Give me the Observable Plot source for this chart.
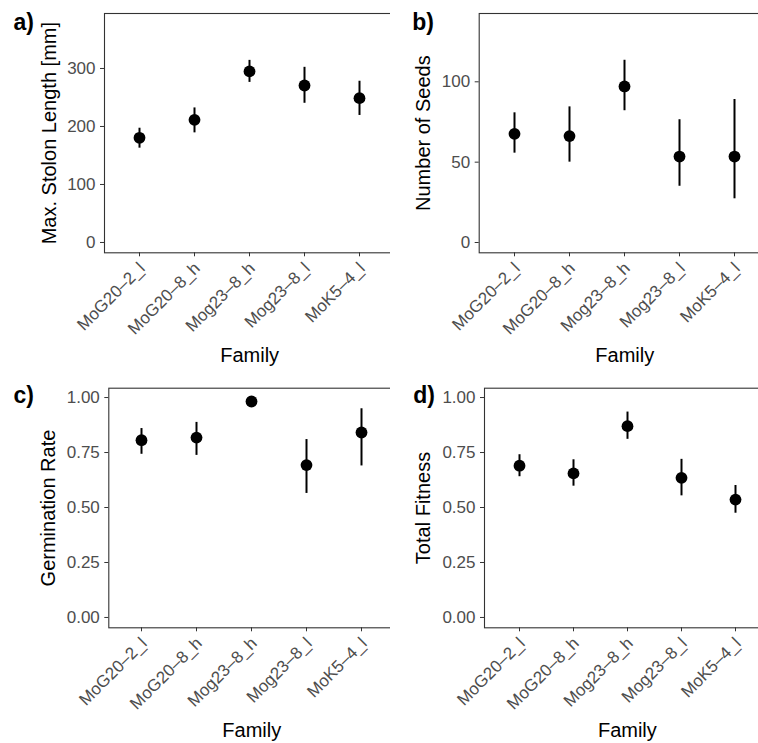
<!DOCTYPE html>
<html>
<head>
<meta charset="utf-8">
<script src="https://cdn.jsdelivr.net/npm/d3@7"></script>
<script src="https://cdn.jsdelivr.net/npm/@observablehq/plot@0.6"></script>
<style>
  html, body { margin: 0; padding: 0; background: #fff; }
  #root { position: relative; width: 758px; height: 743px; overflow: hidden; background: #fff; }
  #root > div { position: absolute; }
  #root svg { max-width: none !important; font-family: "Liberation Sans", Arial, Helvetica, sans-serif; }
</style>
</head>
<body>
<div id="root"></div>
<script>
const families = ["MoG20–2_l", "MoG20–8_h", "Mog23–8_h", "Mog23–8_l", "MoK5–4_l"];

const stolonMean = [180.5, 211.5, 295, 270.7, 248.8];
const stolonLo   = [162.6, 189, 276, 240, 219];
const stolonHi   = [197, 232, 314, 302, 278];

const seedsMean = [67.6, 66.2, 97.1, 53.5, 53.5];
const seedsLo   = [55.6, 50, 82, 35, 27.2];
const seedsHi   = [80.7, 84.4, 113.4, 76.4, 89];

const germMean = [0.806, 0.818, 0.982, 0.693, 0.841];
const germLo   = [0.742, 0.737, 0.975, 0.564, 0.689];
const germHi   = [0.859, 0.887, 0.990, 0.809, 0.949];

const fitMean = [0.690, 0.655, 0.870, 0.635, 0.536];
const fitLo   = [0.640, 0.597, 0.810, 0.553, 0.474];
const fitHi   = [0.740, 0.717, 0.934, 0.719, 0.600];

const stolonTicks = [0, 100, 200, 300];
const seedsTicks = [0, 50, 100];
const rateTicks = [0, 0.25, 0.5, 0.75, 1];

const panelLabels = ["a)", "b)", "c)", "d)"];
const yTitles = ["Max. Stolon Length [mm]", "Number of Seeds", "Germination Rate", "Total Fitness"];
const xTitle = "Family";

function rows(mean, lo, hi) {
  return families.map((f, i) => ({family: f, mean: mean[i], lo: lo[i], hi: hi[i]}));
}

function panel(cfg) {
  const data = rows(cfg.mean, cfg.lo, cfg.hi);
  return Plot.plot({
    width: cfg.width, height: cfg.height,
    marginLeft: cfg.ml, marginRight: cfg.mr, marginTop: cfg.mt, marginBottom: cfg.mb,
    style: {background: "white", fontFamily: "Liberation Sans, Arial, Helvetica, sans-serif", overflow: "visible", maxWidth: "none"},
    x: {type: "point", domain: families, padding: 0.6},
    y: {domain: cfg.domain},
    marks: [
      Plot.axisY(cfg.ticks, {tickSize: 4, tickPadding: 5, fontSize: 17, fill: "#4D4D4D", stroke: "#333333", tickFormat: cfg.fmt, label: null}),
      Plot.axisX({tickSize: 4, tickFormat: () => "", label: null, stroke: "#333333"}),
      Plot.text(families, {x: d => d, frameAnchor: "bottom", rotate: -45, textAnchor: "end", lineAnchor: "top", dx: -2, dy: 8, fontSize: 17, fill: "#4D4D4D"}),
      Plot.ruleX(data, {x: "family", y1: "lo", y2: "hi", stroke: "black", strokeWidth: 2}),
      Plot.dot(data, {x: "family", y: "mean", r: 5.9, fill: "black", stroke: "none"}),
      Plot.frame({stroke: "#333333", strokeWidth: 1.1}),
      Plot.text([cfg.title], {frameAnchor: "left", rotate: -90, dx: cfg.titleDx, textAnchor: "middle", lineAnchor: "bottom", fontSize: 20, fill: "black"}),
      Plot.text([xTitle], {frameAnchor: "bottom", dy: 108.7, textAnchor: "middle", lineAnchor: "bottom", fontSize: 20, fill: "black"}),
      Plot.text([cfg.tag], {frameAnchor: "top-left", dx: cfg.tagDx, dy: cfg.tagDy, textAnchor: "start", lineAnchor: "bottom", fontSize: 23, fontWeight: "bold", fill: "black"})
    ]
  });
}

const fmt2 = d3.format(".2f");
const configs = [
  {left: 0, top: 0, width: 400, height: 372, ml: 104, mr: 5.7, mt: 13, mb: 119.7,
   mean: stolonMean, lo: stolonLo, hi: stolonHi, domain: [-17.8, 394.8], ticks: stolonTicks, fmt: d3.format("d"),
   title: yTitles[0], titleDx: -49, tag: panelLabels[0], tagDx: -91, tagDy: 16},
  {left: 390, top: 0, width: 385, height: 372, ml: 88.7, mr: 5.1, mt: 13, mb: 119.7,
   mean: seedsMean, lo: seedsLo, hi: seedsHi, domain: [-6.4, 142.5], ticks: seedsTicks, fmt: d3.format("d"),
   title: yTitles[1], titleDx: -49, tag: panelLabels[1], tagDx: -67, tagDy: 16},
  {left: 0, top: 375, width: 400, height: 368, ml: 108.3, mr: 5.7, mt: 12.7, mb: 115.7,
   mean: germMean, lo: germLo, hi: germHi, domain: [-0.047, 1.0425], ticks: rateTicks, fmt: fmt2,
   title: yTitles[2], titleDx: -54, tag: panelLabels[2], tagDx: -95.3, tagDy: 14.3},
  {left: 390, top: 375, width: 385, height: 368, ml: 94, mr: 5.3, mt: 12.7, mb: 115.7,
   mean: fitMean, lo: fitLo, hi: fitHi, domain: [-0.047, 1.0425], ticks: rateTicks, fmt: fmt2,
   title: yTitles[3], titleDx: -54.5, tag: panelLabels[3], tagDx: -71.3, tagDy: 14.3}
];

const root = document.getElementById("root");
for (const cfg of configs) {
  const holder = document.createElement("div");
  holder.style.left = cfg.left + "px";
  holder.style.top = cfg.top + "px";
  holder.style.width = cfg.width + "px";
  holder.style.height = cfg.height + "px";
  holder.appendChild(panel(cfg));
  root.appendChild(holder);
}
</script>
</body>
</html>
